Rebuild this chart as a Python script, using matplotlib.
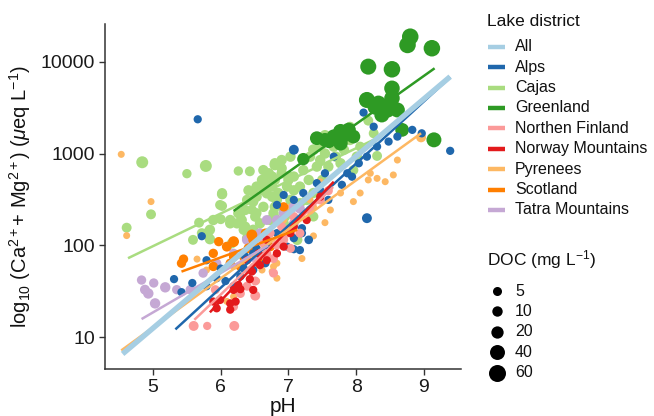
import numpy as np
import matplotlib
matplotlib.use("Agg")
import matplotlib.pyplot as plt

plt.rcParams['font.family'] = ['Liberation Sans', 'DejaVu Sans']
plt.rcParams['mathtext.fontset'] = 'custom'
plt.rcParams['mathtext.rm'] = 'Liberation Sans'
plt.rcParams['mathtext.it'] = 'Liberation Sans:italic'
plt.rcParams['mathtext.bf'] = 'Liberation Sans:bold'

# ---------------- data ----------------
districts = ['All', 'Alps', 'Cajas', 'Greenland', 'Northen Finland',
             'Norway Mountains', 'Pyrenees', 'Scotland', 'Tatra Mountains']
colors = ['#A6CEE3', '#1F67AC', '#A9DC80', '#2E9A24', '#FB9A99',
          '#E31A1C', '#FDB863', '#FF7F00', '#C5A8D4']

alps_ph = [5.66, 7.08, 9.39, 8.16, 8.11, 8.26, 8.48, 8.61, 8.83, 8.97, 8.31, 7.94, 7.67, 7.59, 7.22, 7.42,
           7.20, 7.30, 7.08, 6.98, 6.83, 6.68, 6.53, 6.48, 6.66, 6.34, 6.29, 6.19, 6.07, 5.94, 5.79, 5.72,
           5.79, 5.58, 5.31, 5.42, 6.00, 6.83, 6.93, 7.08, 7.20, 7.08, 7.47, 7.79, 8.04, 7.54, 7.87, 8.16,
           6.48, 7.17, 6.36]
alps_val = [2360, 1100, 1070, 198, 2790, 1960, 1350, 1530, 1810, 1660, 1190, 560, 925, 313, 372, 476,
            154, 115, 91, 97, 136, 93, 93, 54, 64, 56, 46, 36, 41, 44, 69, 126,
            36, 39, 43, 31, 56, 276, 354, 313, 136, 120, 398, 457, 784, 610, 610, 925,
            82, 89, 76]
alps_doc = [3, 8, 3, 8, 3, 3, 3, 3, 3, 3, 3, 3, 3, 3, 3, 3,
            3, 4, 3, 3, 3, 3, 3, 3, 3, 3, 3, 3, 3, 3, 3, 3,
            3, 3, 3, 3, 3, 3, 3, 3, 3, 3, 3, 3, 3, 3, 3, 3,
            3, 3, 3]

cajas_ph = [4.84, 5.78, 5.50, 4.61, 4.97, 6.26, 6.43, 5.68, 5.59, 5.84, 5.82, 6.00, 6.02, 6.02, 6.14, 6.24,
            6.16, 6.39, 6.34, 6.48, 6.46, 6.53, 6.48, 6.63, 6.58, 6.71, 6.80, 6.90, 7.00, 6.68, 6.83, 6.93,
            6.78, 6.63, 6.73, 7.08, 7.03, 7.17, 7.30, 7.42, 7.37, 7.47, 7.54, 7.62, 7.70, 7.82, 7.91, 8.06,
            8.31, 8.18, 7.47, 7.59, 7.77, 7.96, 8.01, 7.22, 7.08, 7.17, 7.27, 7.37, 7.50, 6.98, 6.76, 6.53,
            6.39, 6.29, 6.58, 6.93, 7.13, 7.37, 6.71, 6.80, 6.90, 7.03, 7.32, 7.67, 8.26, 7.91, 7.54,
            6.63, 6.80, 6.76, 6.61, 6.53, 6.68, 6.90, 7.00, 6.85, 6.76, 6.48, 6.41, 6.80, 6.93, 6.95,
            6.36, 6.26, 6.51, 6.02, 5.99, 5.84, 5.72, 5.89, 6.14, 6.31, 6.36, 6.80]
cajas_val = [804, 733, 604, 156, 218, 646, 641, 177, 115, 117, 141, 193, 269, 361, 174, 174,
             105, 120, 148, 148, 245, 225, 385, 516, 437, 610, 752, 692, 562, 369, 313, 243,
             224, 263, 189, 398, 313, 437, 516, 721, 1100, 1190, 1585, 1295, 925, 1100, 1406, 1190,
             942, 2280, 850, 721, 784, 660, 925, 660, 562, 288, 313, 372, 516, 437, 437, 339,
             313, 224, 174, 174, 115, 206, 136, 516, 850, 925, 925, 1190, 1660, 1960, 1000,
             660, 784, 562, 516, 437, 457, 610, 516, 372, 339, 300, 398, 263, 251, 206,
             243, 224, 206, 372, 276, 148, 136, 189, 189, 189, 160, 198]
cajas_doc = [18, 18, 6, 8, 8, 6, 8, 8, 8, 10, 8, 8, 8, 10, 10, 10,
             8, 10, 10, 10, 8, 8, 10, 10, 10, 10, 12, 10, 10, 10, 10, 10,
             10, 10, 10, 10, 10, 10, 10, 10, 12, 12, 10, 12, 10, 10, 10, 8,
             8, 8, 10, 10, 10, 8, 10, 10, 10, 10, 10, 10, 10, 10, 10, 10,
             10, 10, 10, 10, 10, 8, 10, 10, 10, 10, 10, 10, 8, 8, 10,
             10, 10, 10, 10, 10, 10, 10, 10, 10, 10, 10, 10, 10, 10, 10,
             10, 10, 10, 8, 8, 10, 8, 10, 10, 10, 10, 10]

greenland_ph = [8.80, 8.76, 9.12, 8.18, 8.53, 8.53, 8.53, 8.16, 8.33, 8.46, 8.61, 8.38, 8.68, 9.15,
                7.77, 7.89, 7.96, 7.67, 7.42, 7.77, 7.54, 7.22, 8.28, 7.85, 7.60]
greenland_val = [18700, 15200, 14000, 8830, 8260, 5130, 4000, 3830, 3520, 2980, 2980, 2630, 1810, 1410,
                 1740, 1810, 1530, 1530, 1470, 1290, 1410, 870, 3200, 1600, 1350]
greenland_doc = [55, 55, 55, 50, 55, 45, 45, 50, 45, 45, 40, 40, 30, 40,
                 40, 35, 30, 35, 30, 35, 30, 20, 40, 30, 25]

finland_ph = [5.60, 5.80, 6.20, 6.51, 6.51, 6.78, 6.83, 6.93, 7.03, 6.90, 7.08, 7.59, 7.47, 6.39,
              6.29, 6.68, 6.63, 6.73, 6.98, 6.78, 6.19, 7.32, 5.92, 7.17]
finland_val = [13.3, 13.3, 13.3, 28.4, 41, 72, 101, 115, 93, 160, 206, 394, 313, 36,
               30, 82, 106, 136, 136, 50, 21.6, 243, 33, 136]
finland_doc = [8, 3, 8, 8, 5, 5, 5, 5, 5, 5, 5, 5, 5, 5,
               5, 5, 5, 5, 5, 5, 5, 5, 5, 5]

norway_ph = [5.94, 6.14, 6.22, 5.99, 6.19, 6.29, 6.26, 6.43, 6.46, 6.58, 6.68, 6.83, 6.68, 6.93,
             7.03, 6.39, 6.56, 6.14, 5.89, 6.48, 7.08, 7.27, 7.47]
norway_val = [20.7, 23.4, 24.5, 25.5, 32.8, 33.4, 37, 43, 52, 61, 69, 82, 115, 97,
              136, 69, 82, 20, 24.5, 32.8, 160, 189, 339]
norway_doc = [3] * 23

pyrenees_ph = [4.53, 4.97, 4.61, 8.96, 8.61, 8.55, 8.43, 8.31, 8.18, 7.96, 7.77, 7.54, 8.21, 7.37,
               7.20, 6.83, 6.78, 6.76, 6.83, 6.61, 6.53, 5.65, 5.79, 6.09, 6.19, 5.99, 7.03, 7.32,
               7.03, 6.93, 7.62, 6.48, 6.36, 6.19, 6.68, 7.47, 7.37, 8.06, 7.17]
pyrenees_val = [980, 300, 128, 1500, 850, 585, 494, 537, 516, 300, 372, 177, 610, 127,
                72, 64, 59, 52, 44, 54, 41, 71, 54, 24.6, 27.7, 25.5, 136, 313,
                263, 189, 243, 59, 69, 59, 82, 494, 263, 372, 263]
pyrenees_doc = [1, 1, 1, 8] + [1] * 35

scotland_ph = [5.42, 5.45, 5.89, 5.89, 5.97, 6.09, 6.19, 6.19, 6.14, 6.46, 6.41, 6.48, 6.29, 6.58,
               6.73, 6.93, 6.66, 6.34]
scotland_val = [64, 71, 82, 59, 110, 97, 110, 75, 64, 130, 93, 115, 59, 64,
                97, 263, 136, 75]
scotland_doc = [6, 6, 6, 6, 6, 8, 12, 6, 6, 12, 8, 8, 6, 6, 6, 6, 6, 6]

tatra_ph = [4.83, 4.88, 4.93, 5.01, 5.03, 5.18, 5.35, 5.55, 5.74, 5.94, 6.19, 6.39, 6.58, 6.68,
            6.93, 7.08, 7.17, 7.08, 6.48, 6.83]
tatra_val = [42, 33, 30, 39, 23.4, 35, 33, 33, 50, 64, 82, 115, 136, 189,
             224, 263, 251, 174, 75, 189]
tatra_doc = [6, 8, 10, 6, 10, 10, 6, 6, 6, 6, 6, 10, 8, 8, 8, 8, 8, 8, 8, 8]

# fitted log-linear trends: pH range and fitted values at its ends
fit_ph_lo = [4.55, 5.33, 4.63, 6.19, 5.61, 5.84, 4.53, 5.42, 4.83]
fit_ph_hi = [9.39, 9.39, 8.30, 9.16, 7.66, 7.67, 8.96, 7.13, 6.70]
fit_val_lo = [6.6, 12.2, 72.6, 237, 15.5, 18.7, 7.2, 51.9, 15.8]
fit_val_hi = [6870, 6760, 1460, 8470, 433, 494, 1663, 148, 100]

doc_legend = [5, 10, 20, 40, 60]
x_ticks = [5, 6, 7, 8, 9]
y_ticks = [10, 100, 1000, 10000]
y_tick_labels = ['10', '100', '1000', '10000']


def doc_size(doc):
    d_px = 6.0 + 11.5 * np.sqrt(np.clip((np.asarray(doc, float) - 0.5) / 65.0, 0, 1))
    return (d_px * 0.72) ** 2


# ---------------- figure ----------------
W, H = 654, 416
fig = plt.figure(figsize=(W / 100, H / 100), dpi=100)
ax = fig.add_axes([105 / W, 47 / H, 356 / W, 345 / H])

groups = [
    ('Cajas', cajas_ph, cajas_val, cajas_doc),
    ('Greenland', greenland_ph, greenland_val, greenland_doc),
    ('Pyrenees', pyrenees_ph, pyrenees_val, pyrenees_doc),
    ('Tatra Mountains', tatra_ph, tatra_val, tatra_doc),
    ('Scotland', scotland_ph, scotland_val, scotland_doc),
    ('Alps', alps_ph, alps_val, alps_doc),
    ('Northen Finland', finland_ph, finland_val, finland_doc),
    ('Norway Mountains', norway_ph, norway_val, norway_doc),
]
for name, ph, val, doc in groups:
    c = colors[districts.index(name)]
    ax.scatter(ph, val, s=doc_size(doc), color=c, linewidths=0, zorder=2)

for i, name in enumerate(districts):
    lw = 3.9 if name == 'All' else 1.8
    z = 5 if name == 'All' else 4
    ax.plot([fit_ph_lo[i], fit_ph_hi[i]], [fit_val_lo[i], fit_val_hi[i]],
            color=colors[i], lw=lw, solid_capstyle='butt', zorder=z)

ax.set_yscale('log')
ax.set_xlim(4.29, 9.55)
ax.set_ylim(4.52, 25700)
ax.set_xticks(x_ticks)
ax.set_xticklabels([str(t) for t in x_ticks])
ax.set_yticks(y_ticks)
ax.set_yticklabels(y_tick_labels)
ax.yaxis.set_minor_locator(matplotlib.ticker.NullLocator())
ax.tick_params(axis='both', labelsize=14, colors='#333333', labelcolor='#1a1a1a',
               length=4, width=1.0, pad=3)
for s in ['top', 'right']:
    ax.spines[s].set_visible(False)
for s in ['left', 'bottom']:
    ax.spines[s].set_color('#333333')
    ax.spines[s].set_linewidth(1.1)

ax.set_xlabel('pH', fontsize=15, color='#111111', labelpad=1)
ax.set_ylabel(r'log$_{10}$ (Ca$^{2+}$+ Mg$^{2+}$) ($\mu$eq L$^{-1}$)', fontsize=14.5,
              color='#111111', labelpad=6)

# ---------------- legends (layout in figure pixels) ----------------
lax = fig.add_axes([0, 0, 1, 1], zorder=-1)
lax.set_xlim(0, W)
lax.set_ylim(H, 0)
lax.axis('off')

lax.text(487, 21, 'Lake district', fontsize=12.5, va='center', ha='left', color='#111111')
for i, name in enumerate(districts):
    y = 46.7 + i * 20.4
    lax.plot([488, 505], [y, y], color=colors[i], lw=3.2, solid_capstyle='butt')
    lax.text(515, y, name, fontsize=11.5, va='center', ha='left', color='#111111')

lax.text(487, 260, r'DOC (mg L$^{-1}$)', fontsize=12.5, va='center', ha='left', color='#111111')
for j, d in enumerate(doc_legend):
    y = 291 + j * 20.4
    lax.scatter([496.7], [y], s=doc_size([d]), color='black', linewidths=0)
    lax.text(515, y, str(d), fontsize=11.5, va='center', ha='left', color='#111111')

fig.savefig('out.png', dpi=100)
